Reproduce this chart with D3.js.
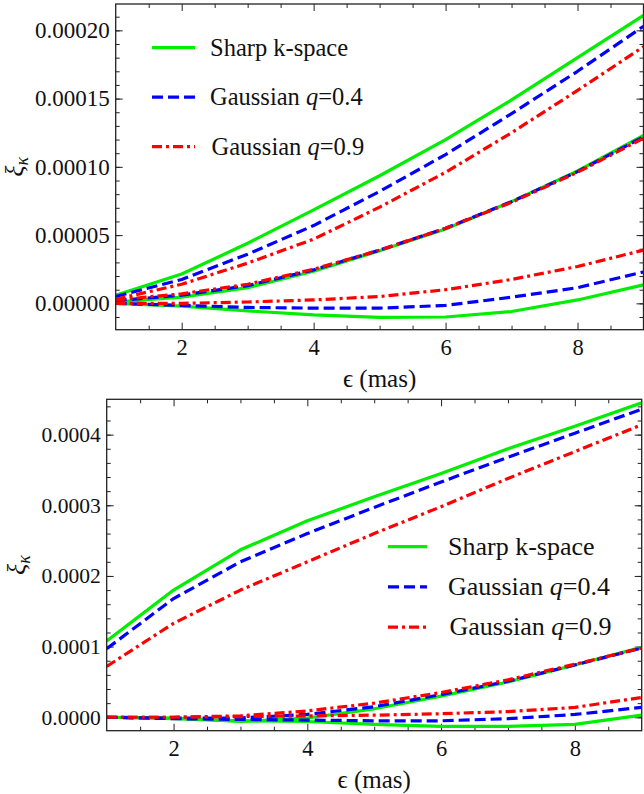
<!DOCTYPE html>
<html>
<head>
<meta charset="utf-8">
<script src="https://cdn.jsdelivr.net/npm/d3@7"></script>
<style>
  body { margin: 0; background: #fff; }
  svg { display: block; }
  text { font-family: "Liberation Serif", "DejaVu Serif", serif; fill: #111; }
</style>
</head>
<body>
<div id="container"></div>
<script>
// epsilon values (mas) shared by both panels
var epsilon = [1, 2, 3, 4, 5, 6, 7, 8, 9];

// top panel curves, three groups of three
var topSharpHigh   = [6e-6, 2.15e-5, 4.4e-5, 6.85e-5, 9.35e-5, 1.2e-4, 1.49e-4, 1.8e-4, 2.11e-4];
var topGauss04High = [5e-6, 1.75e-5, 3.6e-5, 5.7e-5, 8.2e-5, 1.09e-4, 1.39e-4, 1.7e-4, 2.03e-4];
var topGauss09High = [3e-6, 1.4e-5, 2.95e-5, 4.7e-5, 7.05e-5, 9.6e-5, 1.25e-4, 1.56e-4, 1.88e-4];
var topSharpMid    = [1e-6, 4.5e-6, 1.15e-5, 2.35e-5, 3.85e-5, 5.45e-5, 7.45e-5, 9.7e-5, 1.23e-4];
var topGauss04Mid  = [2e-6, 6e-6, 1.3e-5, 2.45e-5, 3.9e-5, 5.5e-5, 7.45e-5, 9.65e-5, 1.22e-4];
var topGauss09Mid  = [2.5e-6, 7e-6, 1.4e-5, 2.5e-5, 3.9e-5, 5.5e-5, 7.4e-5, 9.6e-5, 1.21e-4];
var topSharpLow    = [0, -2e-6, -5.5e-6, -8.5e-6, -1.03e-5, -1e-5, -6e-6, 2.5e-6, 1.35e-5];
var topGauss04Low  = [0, -1.5e-6, -3e-6, -3.5e-6, -3.5e-6, -1.5e-6, 4.5e-6, 1.15e-5, 2.3e-5];
var topGauss09Low  = [0, 0, 1e-6, 2.5e-6, 5e-6, 1e-5, 1.75e-5, 2.7e-5, 3.9e-5];

// bottom panel curves
var botSharpHigh   = [1.08e-4, 1.8e-4, 2.37e-4, 2.78e-4, 3.12e-4, 3.45e-4, 3.8e-4, 4.12e-4, 4.45e-4];
var botGauss04High = [9.7e-5, 1.68e-4, 2.2e-4, 2.6e-4, 2.97e-4, 3.33e-4, 3.68e-4, 4.02e-4, 4.36e-4];
var botGauss09High = [7.2e-5, 1.33e-4, 1.8e-4, 2.2e-4, 2.6e-4, 2.98e-4, 3.38e-4, 3.76e-4, 4.14e-4];
var botSharpMid    = [0, -1e-6, -6e-6, -1e-6, 1.2e-5, 3e-5, 5e-5, 7.4e-5, 9.9e-5];
var botGauss04Mid  = [0, -1e-6, -1e-6, 4e-6, 1.5e-5, 3.2e-5, 5.1e-5, 7.4e-5, 9.8e-5];
var botGauss09Mid  = [0, 0, 2e-6, 9e-6, 2e-5, 3.5e-5, 5.3e-5, 7.5e-5, 9.8e-5];
var botSharpLow    = [0, -2e-6, -5e-6, -6e-6, -1e-5, -1.3e-5, -1.3e-5, -1e-5, 3e-6];
var botGauss04Low  = [0, -2e-6, -3e-6, -4e-6, -5e-6, -5e-6, -2e-6, 4e-6, 1.4e-5];
var botGauss09Low  = [0, 0, 1e-6, 2e-6, 3e-6, 5e-6, 8e-6, 1.4e-5, 2.8e-5];

// ticks and legend text
var xMajorTicks = [2, 4, 6, 8];
var xMinorTicks = [1.5, 2.5, 3, 3.5, 4.5, 5, 5.5, 6.5, 7, 7.5, 8.5];
var topYTicks = [0, 5e-5, 1e-4, 1.5e-4, 2e-4];
var botYTicks = [0, 1e-4, 2e-4, 3e-4, 4e-4];
var legendNames = ["Sharp k-space", "Gaussian ", "Gaussian "];
var legendQ = [null, "0.4", "0.9"];

var styles = [
  { color: "#00ee00", dash: null },
  { color: "#0000ff", dash: "11,5" },
  { color: "#ff0000", dash: "10,4,3,4" }
];

var svg = d3.select("#container").append("svg")
    .attr("width", 644)
    .attr("height", 794);

function drawPanel(p) {
  var x = d3.scaleLinear().domain([1, 9]).range([p.left, p.right]);
  var y = d3.scaleLinear().domain(p.yDomain).range([p.bottom, p.top]);
  var g = svg.append("g");

  var clipId = "clip" + p.id;
  svg.append("clipPath").attr("id", clipId)
    .append("rect")
      .attr("x", p.left).attr("y", p.top)
      .attr("width", p.right - p.left).attr("height", p.bottom - p.top);

  var minorY = d3.range(-30, 60).map(function(i) { return i * p.yMinorStep; })
      .filter(function(v) { return v >= p.yDomain[0] && v <= p.yDomain[1]; });

  // axes: major + minor, ticks pointing inward on all four sides
  function addAxis(axisFn, scale, values, size, tx, ty, labels, fmt, fs) {
    var a = axisFn(scale).tickValues(values).tickSizeInner(size).tickSizeOuter(0).tickPadding(6);
    a.tickFormat(labels ? fmt : "");
    var ag = g.append("g").attr("transform", "translate(" + tx + "," + ty + ")").call(a);
    ag.attr("font-family", "Liberation Serif").attr("font-size", fs || 22);
    ag.select(".domain").remove();
    ag.selectAll("line").attr("stroke", "#222");
    ag.selectAll("text").attr("fill", "#111");
    return ag;
  }

  var fx = d3.format("d");
  var fy = d3.format(p.yFormat);
  var xb = addAxis(d3.axisBottom, x, xMajorTicks, -7, 0, p.bottom, true, fx, 22.5);
  xb.selectAll("text").attr("dy", null).attr("y", 25);
  addAxis(d3.axisBottom, x, xMinorTicks, -4, 0, p.bottom, false);
  addAxis(d3.axisTop, x, xMajorTicks, -7, 0, p.top, false);
  addAxis(d3.axisTop, x, xMinorTicks, -4, 0, p.top, false);
  addAxis(d3.axisLeft, y, p.yTicks, -7, p.left, 0, true, fy, p.yFontSize);
  addAxis(d3.axisLeft, y, minorY, -4, p.left, 0, false);
  addAxis(d3.axisRight, y, p.yTicks, -7, p.right, 0, false);
  addAxis(d3.axisRight, y, minorY, -4, p.right, 0, false);

  // curves
  var line = d3.line()
      .x(function(d, i) { return x(epsilon[i]); })
      .y(function(d) { return y(d); });

  var lines = g.append("g").attr("clip-path", "url(#" + clipId + ")");
  p.groups.forEach(function(group) {
    group.forEach(function(series, k) {
      lines.append("path")
        .datum(series)
        .attr("d", line)
        .attr("fill", "none")
        .attr("stroke", styles[k].color)
        .attr("stroke-width", 3.2)
        .attr("stroke-dasharray", styles[k].dash)
        .attr("stroke-linejoin", "round");
    });
  });

  // frame
  g.append("rect")
    .attr("x", p.left).attr("y", p.top)
    .attr("width", p.right - p.left).attr("height", p.bottom - p.top)
    .attr("fill", "none").attr("stroke", "#222").attr("stroke-width", 1.3);

  // axis titles
  g.append("text")
    .attr("x", (p.left + p.right) / 2)
    .attr("y", p.bottom + 57)
    .attr("text-anchor", "middle")
    .attr("font-size", 25)
    .text("\u03f5 (mas)");

  var yl = g.append("text")
    .attr("transform", "translate(" + p.yLabelX + "," + ((p.top + p.bottom) / 2) + ") rotate(-90)")
    .attr("text-anchor", "middle")
    .attr("font-size", 26);
  yl.append("tspan").attr("font-style", "italic").text("\u03be");
  yl.append("tspan").attr("font-style", "italic").attr("font-size", 18).attr("dy", 5).text("\u03ba");

  // legend
  var lg = g.append("g");
  styles.forEach(function(s, k) {
    var ly = p.legend.y + k * p.legend.dy;
    lg.append("line")
      .attr("x1", p.legend.x).attr("x2", p.legend.x + p.legend.len)
      .attr("y1", ly).attr("y2", ly)
      .attr("stroke", s.color).attr("stroke-width", 3.2)
      .attr("stroke-dasharray", s.dash);
    var t = lg.append("text")
      .attr("x", p.legend.x + p.legend.textOffset + (k == 2 ? 1.5 : 0))
      .attr("y", ly + 8)
      .attr("font-size", p.legend.fontSize)
      .text(legendNames[k]);
    if (legendQ[k]) {
      t.append("tspan").attr("font-style", "italic").text("q");
      t.append("tspan").text("=" + legendQ[k]);
    }
  });
}

drawPanel({
  id: "top",
  left: 115.7, right: 643.5, top: 4, bottom: 329.7,
  yDomain: [-1.93e-5, 2.193e-4],
  yTicks: topYTicks, yMinorStep: 1e-5, yFormat: ".5f", yFontSize: 23,
  yLabelX: 23,
  groups: [
    [topSharpHigh, topGauss04High, topGauss09High],
    [topSharpMid, topGauss04Mid, topGauss09Mid],
    [topSharpLow, topGauss04Low, topGauss09Low]
  ],
  legend: { x: 152, y: 47.7, dy: 49.5, len: 43, textOffset: 58, fontSize: 24.5 }
});

drawPanel({
  id: "bot",
  left: 106.7, right: 641.7, top: 399.3, bottom: 730.7,
  yDomain: [-1.9e-5, 4.5e-4],
  yTicks: botYTicks, yMinorStep: 2e-5, yFormat: ".4f", yFontSize: 21.5,
  yLabelX: 25,
  groups: [
    [botSharpHigh, botGauss04High, botGauss09High],
    [botSharpMid, botGauss04Mid, botGauss09Mid],
    [botSharpLow, botGauss04Low, botGauss09Low]
  ],
  legend: { x: 388, y: 546.7, dy: 40.2, len: 39, textOffset: 60, fontSize: 26 }
});
</script>
</body>
</html>
